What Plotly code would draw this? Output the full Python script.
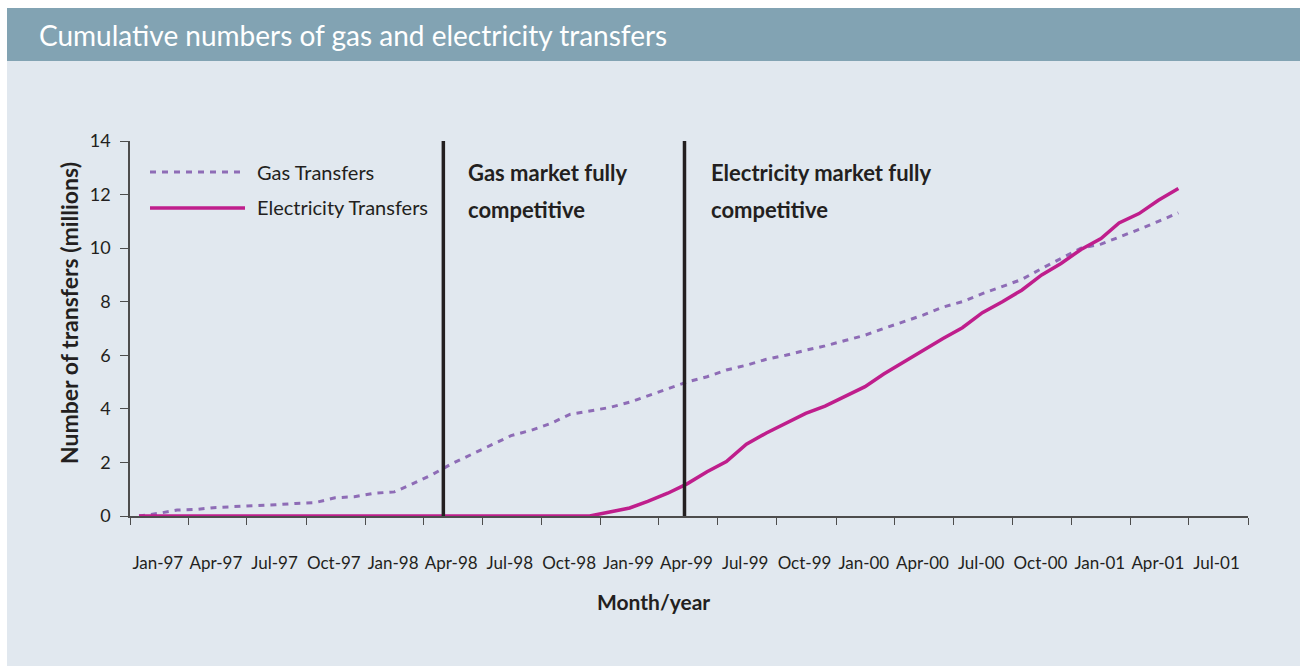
import pandas as pd
import plotly.graph_objects as go

# ---- data (millions of transfers, monthly, cumulative) ----
start_month = "1997-01-01"
n_months = 54
gas_transfers = [0.0, 0.1, 0.22, 0.25, 0.32, 0.35, 0.4, 0.42, 0.47, 0.5,
                 0.68, 0.72, 0.85, 0.9, 1.2, 1.55, 1.95, 2.3, 2.65, 3.0,
                 3.2, 3.45, 3.8, 3.92, 4.05, 4.25, 4.5, 4.75, 5.0, 5.2,
                 5.45, 5.63, 5.85, 6.0, 6.19, 6.35, 6.55, 6.75, 7.0, 7.25,
                 7.5, 7.8, 8.0, 8.3, 8.58, 8.83, 9.24, 9.6, 10.0, 10.15,
                 10.4, 10.7, 11.0, 11.32]
electricity_transfers = [0.0, 0.0, 0.0, 0.0, 0.0, 0.0, 0.0, 0.0, 0.0, 0.0,
                         0.0, 0.0, 0.0, 0.0, 0.0, 0.0, 0.0, 0.0, 0.0, 0.0,
                         0.0, 0.0, 0.0, 0.0, 0.15, 0.3, 0.55, 0.85, 1.2, 1.65,
                         2.03, 2.68, 3.1, 3.45, 3.83, 4.1, 4.48, 4.83, 5.3, 5.76,
                         6.2, 6.63, 7.03, 7.59, 8.0, 8.43, 9.0, 9.43, 9.95, 10.36,
                         10.94, 11.29, 11.79, 12.23]
market_event_lines = [["Gas market fully", "competitive"],
                      ["Electricity market fully", "competitive"]]
market_dates = ["1998-05-02", "1999-05-11"]
y_ticks = [0, 2, 4, 6, 8, 10, 12, 14]

months = pd.date_range(start_month, periods=n_months, freq="MS") + pd.Timedelta(days=14)

FONT = "Lato, 'Open Sans', sans-serif"
TXT = "#231F20"
GAS_C = "#8E6CB6"
ELEC_C = "#BF1E8C"
PANEL = "#E1E8EF"
BAR = "#82A3B3"

# plot-area geometry (px)
L, R, T, B = 130, 1248, 141, 516
W, H = 1300, 666
def px(x):
    return (x - L) / (R - L)
def py(y):
    return (B - y) / (B - T)

fig = go.Figure()
fig.add_trace(go.Scatter(x=months, y=gas_transfers, mode="lines", name="Gas Transfers",
                         line=dict(color=GAS_C, width=3, dash="6px,6px")))
fig.add_trace(go.Scatter(x=months, y=electricity_transfers, mode="lines", name="Electricity Transfers",
                         line=dict(color=ELEC_C, width=3.5)))

shapes = [
    dict(type="rect", xref="paper", yref="paper", x0=px(7), x1=px(1301), y0=py(667), y1=py(61),
         fillcolor=PANEL, line=dict(width=0), layer="below"),
    dict(type="rect", xref="paper", yref="paper", x0=px(7), x1=px(1301), y0=py(61), y1=py(8),
         fillcolor=BAR, line=dict(width=0), layer="below"),
]
for d in market_dates:
    shapes.append(dict(type="line", xref="x", yref="y", x0=d, x1=d, y0=-0.52, y1=14.3,
                       line=dict(color=TXT, width=3.5)))
# legend samples
shapes.append(dict(type="line", xref="paper", yref="paper", x0=px(150), x1=px(245), y0=py(172), y1=py(172),
                   line=dict(color=GAS_C, width=3, dash="6px,6px")))
shapes.append(dict(type="line", xref="paper", yref="paper", x0=px(150), x1=px(245), y0=py(208), y1=py(208),
                   line=dict(color=ELEC_C, width=3.5)))

ann = [
    dict(text="Cumulative numbers of gas and electricity transfers", x=px(37), y=py(35),
         xref="paper", yref="paper", xanchor="left", yanchor="middle", showarrow=False,
         font=dict(family=FONT, size=28, color="white")),
    dict(text="Gas Transfers", x=px(255), y=py(172), xref="paper", yref="paper",
         xanchor="left", yanchor="middle", showarrow=False, font=dict(family=FONT, size=20, color=TXT)),
    dict(text="Electricity Transfers", x=px(255), y=py(207), xref="paper", yref="paper",
         xanchor="left", yanchor="middle", showarrow=False, font=dict(family=FONT, size=20, color=TXT)),
    dict(text="<b>Number of transfers (millions)</b>", x=px(69), y=py(313), xref="paper", yref="paper",
         textangle=-90, xanchor="center", yanchor="middle", showarrow=False,
         font=dict(family=FONT, size=23, color=TXT)),
    dict(text="<b>Month/year</b>", x=px(653), y=py(601), xref="paper", yref="paper",
         xanchor="center", yanchor="middle", showarrow=False, font=dict(family=FONT, size=21, color=TXT)),
]
label_x = [466, 709]
for lines, lx in zip(market_event_lines, label_x):
    for line_text, ly in zip(lines, [172, 209]):
        ann.append(dict(text="<b>" + line_text + "</b>", x=px(lx), y=py(ly), xref="paper", yref="paper",
                        xanchor="left", yanchor="middle", align="left", showarrow=False,
                        font=dict(family=FONT, size=22, color=TXT)))

fig.update_layout(
    width=W, height=H,
    margin=dict(l=L, r=W - R, t=T, b=H - B, pad=0),
    paper_bgcolor="white", plot_bgcolor=PANEL,
    showlegend=False, shapes=shapes, annotations=ann,
    font=dict(family=FONT, color=TXT),
)
fig.update_xaxes(type="date", range=["1997-01-01", "2001-10-01"], dtick="M3", tick0="1997-01-01",
                 tickformat="%b-%y", ticklabelmode="period", ticklabelshift=18,
                 showgrid=False, zeroline=False,
                 showline=True, linecolor="#4D4D4D", linewidth=1.5, ticks="outside", ticklen=7,
                 tickcolor="#4D4D4D", tickwidth=1.2, tickfont=dict(family=FONT, size=17, color=TXT),
                 ticklabelstandoff=24)
fig.update_yaxes(range=[0, 14], tickvals=y_ticks, showgrid=False, zeroline=False,
                 showline=True, linecolor="#4D4D4D", linewidth=1.5, ticks="outside", ticklen=8,
                 tickcolor="#4D4D4D", tickwidth=1.2, tickfont=dict(family=FONT, size=18, color=TXT),
                 ticklabelstandoff=6)

fig.write_html("out.html", config={"displayModeBar": False},
               post_script="document.body.style.margin='0px';document.body.style.overflow='hidden';")
